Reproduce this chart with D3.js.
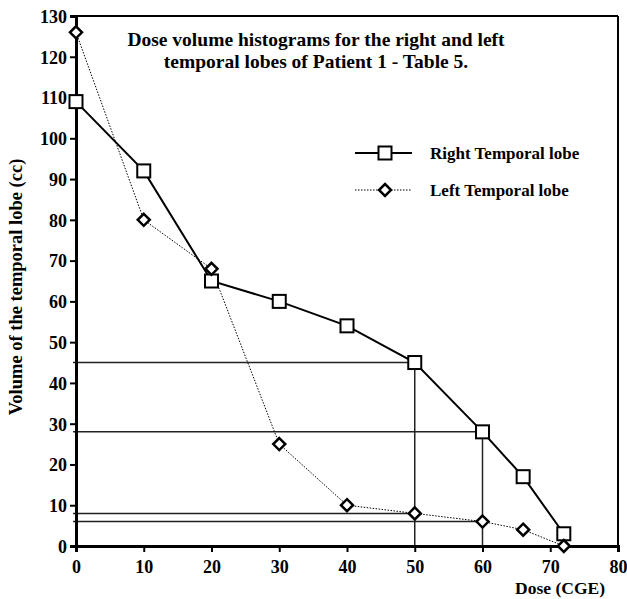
<!DOCTYPE html>
<html>
<head>
<meta charset="utf-8">
<script src="https://cdn.jsdelivr.net/npm/d3@7"></script>
<style>
  body { margin: 0; background: #fff; }
  text { font-family: "Liberation Serif", "DejaVu Serif", serif; font-weight: bold; fill: #000; }
</style>
</head>
<body>
<svg id="chart" width="627" height="599"></svg>
<script>
var doses = [0, 10, 20, 30, 40, 50, 60, 66, 72];
var rightLobe = [109, 92, 65, 60, 54, 45, 28, 17, 3];
var leftLobe = [126, 80, 68, 25, 10, 8, 6, 4, 0];
var xTicks = [0, 10, 20, 30, 40, 50, 60, 70, 80];
var yTicks = [0, 10, 20, 30, 40, 50, 60, 70, 80, 90, 100, 110, 120, 130];
// guide lines: [dose, volume]
var guides = [[50, 45], [60, 28], [50, 8], [60, 6]];
var titleLines = ["Dose volume histograms for the right and left", "temporal lobes of Patient 1 - Table 5."];

var svg = d3.select("#chart");
var x = d3.scaleLinear().domain([0, 80]).range([76, 618]);
var y = d3.scaleLinear().domain([0, 130]).range([546, 16]);

var rightPts = doses.map(function (d, i) { return [d, rightLobe[i]]; });
var leftPts = doses.map(function (d, i) { return [d, leftLobe[i]]; });

// frame top/right
svg.append("line").attr("x1", x(0)).attr("x2", x(80)).attr("y1", y(130)).attr("y2", y(130))
    .attr("stroke", "#000").attr("stroke-width", 2);
svg.append("line").attr("x1", x(80)).attr("x2", x(80)).attr("y1", y(130)).attr("y2", y(0))
    .attr("stroke", "#000").attr("stroke-width", 2);

// guide lines
var g = svg.append("g").attr("class", "guides");
guides.forEach(function (d) {
    g.append("line").attr("x1", x(0) - 3).attr("x2", x(d[0])).attr("y1", y(d[1])).attr("y2", y(d[1]))
        .attr("stroke", "#222").attr("stroke-width", 1.5);
});
[[50, 45], [60, 28]].forEach(function (d) {
    g.append("line").attr("x1", x(d[0])).attr("x2", x(d[0])).attr("y1", y(d[1])).attr("y2", y(0))
        .attr("stroke", "#222").attr("stroke-width", 1.5);
});

// axes
var xAxis = svg.append("g").attr("transform", "translate(0," + y(0) + ")")
    .call(d3.axisBottom(x).tickValues(xTicks).tickSize(6).tickPadding(4));
var yAxis = svg.append("g").attr("transform", "translate(" + x(0) + ",0)")
    .call(d3.axisLeft(y).tickValues(yTicks).tickSize(6).tickPadding(3));
[xAxis, yAxis].forEach(function (a) {
    a.attr("font-family", null).attr("font-size", null);
    a.select(".domain").attr("stroke", "#000").attr("stroke-width", 3);
    a.selectAll(".tick line").attr("stroke", "#000").attr("stroke-width", 2);
    a.selectAll("text").style("font-size", "18px");
});
xAxis.selectAll("text").attr("dy", "0.95em");
yAxis.selectAll("text").attr("dy", "0.35em");

var line = d3.line().x(function (d) { return x(d[0]); }).y(function (d) { return y(d[1]); });

// left lobe (dotted)
svg.append("path").datum(leftPts).attr("d", line).attr("fill", "none")
    .attr("stroke", "#000").attr("stroke-width", 1).attr("stroke-dasharray", "1.5,1.5");
// right lobe (solid)
svg.append("path").datum(rightPts).attr("d", line).attr("fill", "none")
    .attr("stroke", "#000").attr("stroke-width", 2);

function diamond(sel) {
    sel.append("path").attr("d", "M0,-6L6,0L0,6L-6,0Z")
        .attr("fill", "#fff").attr("stroke", "#000").attr("stroke-width", 2.5);
}
function square(sel) {
    sel.append("rect").attr("x", -6.5).attr("y", -6.5).attr("width", 13).attr("height", 13)
        .attr("fill", "#fff").attr("stroke", "#000").attr("stroke-width", 2);
}

svg.append("g").selectAll("g").data(rightPts).enter().append("g")
    .attr("transform", function (d) { return "translate(" + x(d[0]) + "," + y(d[1]) + ")"; })
    .call(square);
svg.append("g").selectAll("g").data(leftPts).enter().append("g")
    .attr("transform", function (d) { return "translate(" + x(d[0]) + "," + y(d[1]) + ")"; })
    .call(diamond);

// title
svg.append("text").attr("x", 316).attr("y", 46).attr("text-anchor", "middle")
    .style("font-size", "19.5px")
    .selectAll("tspan").data(titleLines).enter().append("tspan")
    .attr("x", 316).attr("dy", function (d, i) { return i ? 22 : 0; })
    .text(function (d) { return d; });

// legend
var legend = [{name: "Right Temporal lobe", dash: null, w: 2, mark: square, y: 153},
              {name: "Left Temporal lobe", dash: "1.5,1.5", w: 1, mark: diamond, y: 190}];
legend.forEach(function (d) {
    svg.append("line").attr("x1", 355).attr("x2", 412).attr("y1", d.y).attr("y2", d.y)
        .attr("stroke", "#000").attr("stroke-width", d.w).attr("stroke-dasharray", d.dash);
    svg.append("g").attr("transform", "translate(385," + d.y + ")").call(d.mark);
    svg.append("text").attr("x", 430).attr("y", d.y + 6).style("font-size", "17px").text(d.name);
});

// axis titles
svg.append("text").attr("x", 605).attr("y", 594).attr("text-anchor", "end")
    .style("font-size", "17.5px").text("Dose (CGE)");
svg.append("text").attr("transform", "translate(22,287) rotate(-90)").attr("text-anchor", "middle")
    .style("font-size", "18.5px").text("Volume of the temporal lobe (cc)");
</script>
</body>
</html>
